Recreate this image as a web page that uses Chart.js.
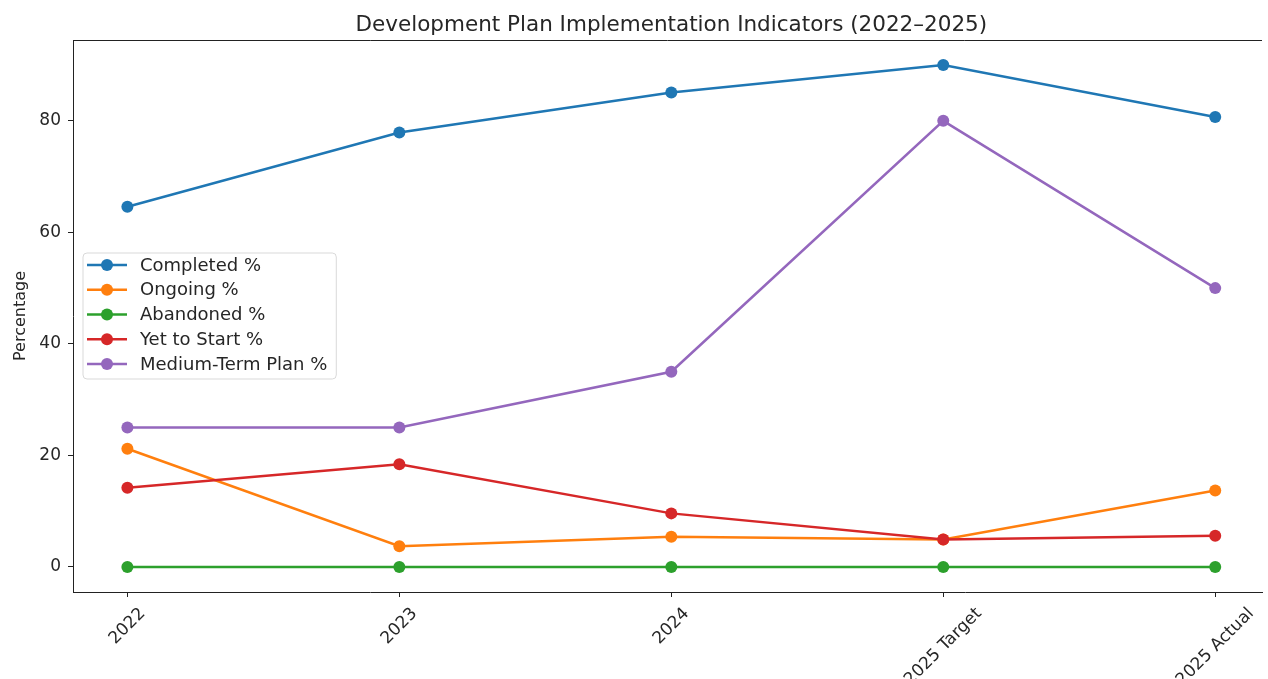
<!DOCTYPE html>
<html>
<head>
<meta charset="utf-8">
<script src="https://cdn.jsdelivr.net/npm/chart.js@4"></script>
<style>
  html, body { margin: 0; padding: 0; background: #fff; overflow: hidden; }
  #box { width: 1268px; height: 679px; }
</style>
</head>
<body>
<div id="box"><canvas id="grafico"></canvas></div>
<script>
const categorias = ['2022', '2023', '2024', '2025 Target', '2025 Actual'];
const completed = [64.6, 77.9, 85.1, 90.0, 80.7];
const ongoing = [21.2, 3.7, 5.4, 4.9, 13.7];
const abandoned = [0, 0, 0, 0, 0];
const yetToStart = [14.2, 18.4, 9.6, 4.9, 5.6];
const mediumTerm = [25, 25, 35, 80, 50];
const yTicks = [0, 20, 40, 60, 80];
const titulo = 'Development Plan Implementation Indicators (2022–2025)';

const fonte = 'DejaVu Sans';
const corTexto = '#262626';

function pontos(valores) {
    return valores.map((v, i) => ({ x: i, y: v }));
}

function serie(label, valores, cor, ordem) {
    return {
        label: label,
        data: pontos(valores),
        borderColor: cor,
        backgroundColor: cor,
        borderWidth: 2.5,
        pointRadius: 6,
        pointBorderWidth: 0,
        pointBackgroundColor: cor,
        order: ordem
    };
}

// linha de cima da moldura + titulo centrado no eixo (a figura original corta a direita)
const moldura = {
    id: 'moldura',
    afterDraw(chart) {
        const { ctx, chartArea } = chart;
        ctx.save();
        ctx.strokeStyle = '#222';
        ctx.lineWidth = 1;
        ctx.beginPath();
        ctx.moveTo(chartArea.left, chartArea.top + 0.5);
        ctx.lineTo(chartArea.right, chartArea.top + 0.5);
        ctx.stroke();

        const meio = chart.scales.x.getPixelForValue((categorias.length - 1) / 2);
        ctx.font = '21.5px "' + fonte + '"';
        ctx.fillStyle = corTexto;
        ctx.textAlign = 'center';
        ctx.textBaseline = 'alphabetic';
        ctx.fillText(titulo, meio, 31);
        ctx.restore();
    }
};

// rotulos do eixo x girados 45 graus, centrados no tick
const rotulosX = {
    id: 'rotulosX',
    afterDraw(chart) {
        const { ctx, chartArea } = chart;
        const escala = chart.scales.x;
        const tam = 17;
        ctx.save();
        ctx.font = tam + 'px "' + fonte + '"';
        ctx.fillStyle = corTexto;
        ctx.textAlign = 'center';
        ctx.textBaseline = 'middle';
        categorias.forEach((cat, i) => {
            const x = escala.getPixelForValue(i);
            const w = ctx.measureText(cat).width;
            const lado = (w + tam) * Math.SQRT1_2;
            const y = chartArea.bottom + 13 + lado / 2;
            ctx.save();
            ctx.translate(x, y);
            ctx.rotate(-Math.PI / 4);
            ctx.fillText(cat, 0, 0);
            ctx.restore();
        });
        ctx.restore();
    }
};

// legenda no canto esquerdo, centrada na vertical
const legenda = {
    id: 'legenda',
    afterDatasetsDraw(chart) {
        const { ctx, chartArea } = chart;
        const sets = chart.data.datasets;
        ctx.save();
        ctx.font = '18px "' + fonte + '"';
        let maior = 0;
        sets.forEach(ds => { maior = Math.max(maior, ctx.measureText(ds.label).width); });
        const passo = 24.75;
        const largura = 57 + maior + 9;
        const altura = 126;
        const x0 = chartArea.left + 10;
        const y0 = (chartArea.top + chartArea.bottom) / 2 - altura / 2;

        ctx.beginPath();
        ctx.roundRect(x0, y0, largura, altura, 4);
        ctx.fillStyle = 'rgba(255,255,255,0.8)';
        ctx.fill();
        ctx.strokeStyle = '#d9d9d9';
        ctx.lineWidth = 1;
        ctx.stroke();

        sets.forEach((ds, i) => {
            const y = y0 + 12 + i * passo;
            ctx.strokeStyle = ds.borderColor;
            ctx.lineWidth = 2.5;
            ctx.beginPath();
            ctx.moveTo(x0 + 4, y);
            ctx.lineTo(x0 + 44, y);
            ctx.stroke();
            ctx.fillStyle = ds.borderColor;
            ctx.beginPath();
            ctx.arc(x0 + 24, y, 6, 0, Math.PI * 2);
            ctx.fill();
            ctx.fillStyle = corTexto;
            ctx.textAlign = 'left';
            ctx.textBaseline = 'middle';
            ctx.fillText(ds.label, x0 + 57, y + 1);
        });
        ctx.restore();
    }
};

const ctx = document.getElementById('grafico').getContext('2d');
window.myChart = new Chart(ctx, {
    type: 'line',
    data: {
        datasets: [
            serie('Completed %', completed, '#1f77b4', 4),
            serie('Ongoing %', ongoing, '#ff7f0e', 3),
            serie('Abandoned %', abandoned, '#2ca02c', 2),
            serie('Yet to Start %', yetToStart, '#d62728', 1),
            serie('Medium-Term Plan %', mediumTerm, '#9467bd', 0)
        ]
    },
    options: {
        responsive: true,
        maintainAspectRatio: false,
        animation: false,
        layout: { padding: { top: 40, right: 0, left: 0, bottom: 0 } },
        plugins: {
            legend: { display: false },
            tooltip: { enabled: false },
            title: { display: false }
        },
        scales: {
            x: {
                type: 'linear',
                min: -0.2,
                max: 4.172,
                afterBuildTicks: scale => { scale.ticks = categorias.map((c, i) => ({ value: i })); },
                afterFit: scale => { scale.height = 87; },
                ticks: { display: false },
                grid: { drawOnChartArea: false, drawTicks: true, tickLength: 5, color: '#222' },
                border: { display: true, color: '#222', width: 1 }
            },
            y: {
                type: 'linear',
                min: -4.5,
                max: 94.5,
                afterBuildTicks: scale => { scale.ticks = yTicks.map(v => ({ value: v })); },
                afterFit: scale => { scale.width = 73; },
                ticks: {
                    color: corTexto,
                    padding: 7,
                    font: { family: fonte, size: 17 }
                },
                grid: { drawOnChartArea: false, drawTicks: true, tickLength: 5, color: '#222' },
                border: { display: true, color: '#222', width: 1 },
                title: {
                    display: true,
                    text: 'Percentage',
                    color: corTexto,
                    font: { family: fonte, size: 16 },
                    padding: { top: 11, bottom: 0 }
                }
            }
        }
    },
    plugins: [moldura, rotulosX, legenda]
});
</script>
</body>
</html>
